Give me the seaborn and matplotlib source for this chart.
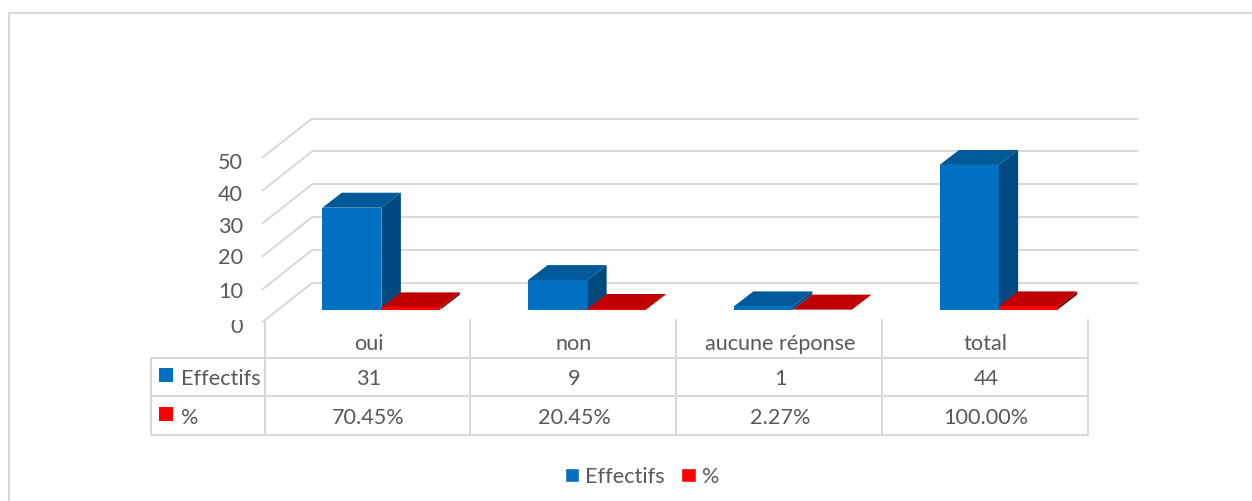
import matplotlib
matplotlib.use("Agg")
import matplotlib.pyplot as plt
import pandas as pd
import seaborn as sns
from matplotlib.lines import Line2D
from matplotlib.patches import Patch, Polygon, Rectangle
from matplotlib.transforms import Affine2D, Bbox

categories = ["oui", "non", "aucune réponse", "total"]
effectifs = [31, 9, 1, 44]
pourcentages = [0.7045, 0.2045, 0.0227, 1.0]
pct_labels = ["70.45%", "20.45%", "2.27%", "100.00%"]
series_names = ["Effectifs", "%"]
y_ticks = [0, 10, 20, 30, 40, 50]

W, H = 1252, 502
BLUE, RED = "#0070C0", "#FF0000"
FACES = {0: ("#005A9A", "#004A7F"), 1: ("#C00000", "#8A0000")}
GRID = "#D9D9D9"
TXT = "#595959"
FS = 15.6

sns.set_theme(style="white")
plt.rcParams["font.family"] = ["Lato", "DejaVu Sans"]

df = pd.DataFrame({
    "cat": categories * 2,
    "value": effectifs + pourcentages,
    "serie": [series_names[0]] * 4 + [series_names[1]] * 4,
})

fig = plt.figure(figsize=(W / 100, H / 100), dpi=100, facecolor="white")
px = Affine2D().scale(1, -1).translate(0, H)
PPU = 3.29
ax = fig.add_axes([278.5 / W, (H - 310.7) / H, 823 / W, 50 * PPU / H])
sns.barplot(data=df, x="cat", y="value", hue="serie", palette=[BLUE, RED],
            width=0.574, gap=0, saturation=1, legend=False, ax=ax, zorder=3,
            linewidth=0)
ax.set_xlim(-0.5, 3.5)
ax.set_ylim(0, 50)
ax.axis("off")


def line(xs, ys, lw=2.0):
    ax.add_line(Line2D(xs, ys, color=GRID, lw=lw * 0.72, transform=px,
                       clip_on=False, zorder=1, solid_capstyle="butt"))


# Back wall gridlines and side-wall diagonals
for v in y_ticks:
    yb = 284 - PPU * v
    line([312, 1138], [yb, yb])
    line([262, 312], [yb + 39.5, yb])

# 3D faces computed from each bar
DX, DY = 19.5, 15
bars = [p for p in ax.patches if isinstance(p, Rectangle)]
for i, b in enumerate(bars):
    (x0, y0), (x1, y1) = ax.transData.transform(
        [(b.get_x(), b.get_y()), (b.get_x() + b.get_width(), b.get_y() + b.get_height())])
    x0d, x1d, y0p, y1p = x0, x1, H - y0, H - y1
    top, side = FACES[0 if i < 4 else 1]
    ax.add_patch(Polygon([(x0d, y1p), (x1d, y1p), (x1d + DX, y1p - DY), (x0d + DX, y1p - DY)],
                         closed=True, fc=top, ec="none", transform=px, clip_on=False, zorder=2))
    ax.add_patch(Polygon([(x1d, y1p), (x1d, y0p), (x1d + DX, y0p - DY), (x1d + DX, y1p - DY)],
                         closed=True, fc=side, ec="none", transform=px, clip_on=False, zorder=2))

# Outer frame: open on the right and bottom
line([9, 9], [13, H])
line([8, W], [14, 14])

# Data table grid
col_x = [265, 470, 676, 882, 1088]
for y in (358.5, 397, 435.5):
    line([151, 1088], [y, y])
line([151, 151], [358, 436])
for x in col_x:
    line([x, x], [320, 436])


def label(x, y, s, ha="center"):
    return fig.text(x, y, s, transform=px, ha=ha, va="center", color=TXT, fontsize=FS)


# Y axis labels; the lowest one is cut by the table's top in the source
tick_y = [327, 292, 258.5, 227, 195, 163.5]
for v, y in zip(y_ticks, tick_y):
    t = label(243, y, str(v), ha="right")
    if v == 0:
        t.set_clip_on(True)
        t.set_clip_box(Bbox([[200, H - 345], [262, H - 320.5]]))

# Table contents
for i, c in enumerate(categories):
    xc = (col_x[i] + col_x[i + 1]) / 2 + 1
    label(xc, 344, c)
    label(xc, 379.5, str(effectifs[i]))
    label(xc, 418, pct_labels[i])
for y, name, col in ((376, series_names[0], BLUE), (415, series_names[1], RED)):
    ax.add_patch(Rectangle((159, y - 7), 14, 14, fc=col, ec="none", transform=px, clip_on=False))
    label(181, y + 3.5, name, ha="left")

# Legend
fig.legend(handles=[Patch(fc=BLUE, label=series_names[0]), Patch(fc=RED, label=series_names[1])],
           loc="center", bbox_to_anchor=(642 / W, (H - 477.5) / H), ncol=2, frameon=False,
           fontsize=FS, labelcolor=TXT, handlelength=0.66, handleheight=0.66, handletextpad=0.3,
           columnspacing=0.75, borderpad=0, borderaxespad=0)

fig.savefig("out.png", dpi=100, facecolor="white")
